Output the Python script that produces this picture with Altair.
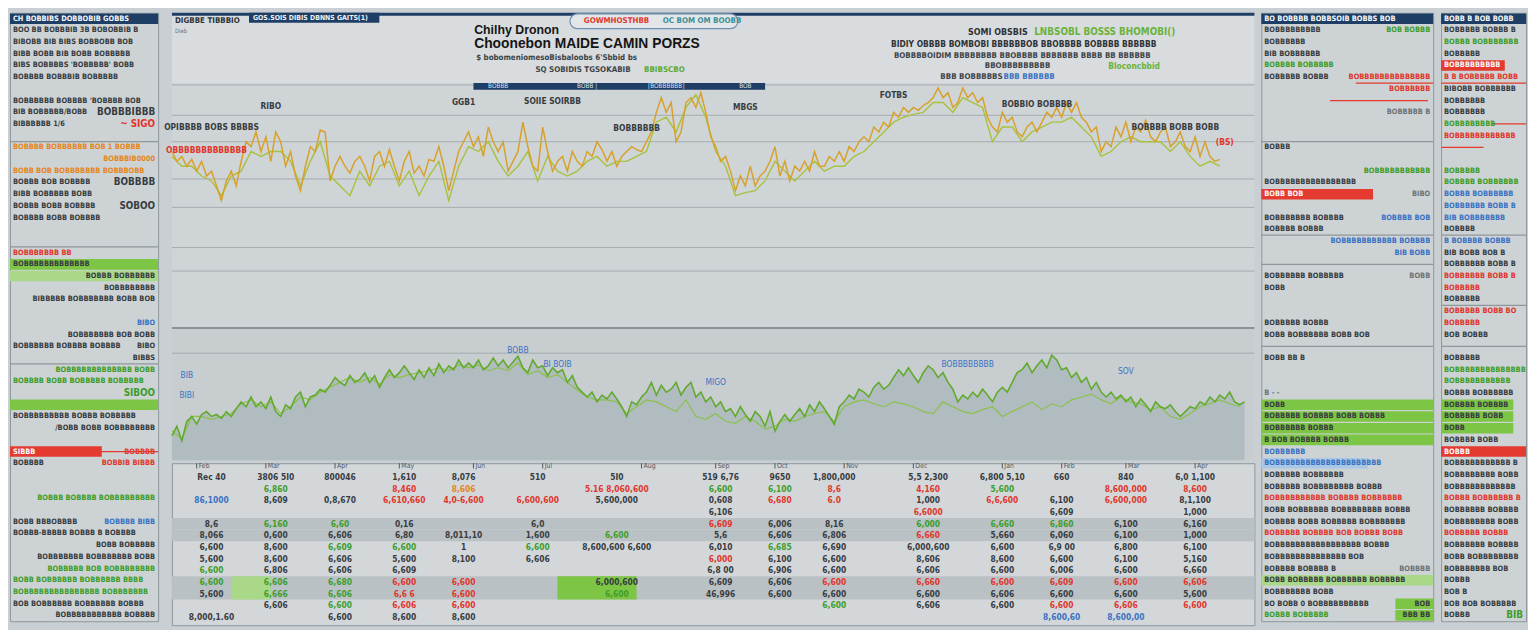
import altair as alt
import pandas as pd

FONT = "Liberation Sans Narrow, DejaVu Sans Condensed, Liberation Sans, sans-serif"
TITLE_FONT = "Liberation Sans, Arial, sans-serif"

# ---------------- upper panel: two price lines ----------------
PRICE_GOLD = [180,170,175,165,172,160,170,155,160,145,130,150,160,145,170,190,185,200,180,195,170,200,190,165,180,155,140,165,185,180,202,200,150,165,175,165,158,170,175,165,150,175,180,165,182,165,150,170,180,158,165,155,172,170,185,165,140,160,180,190,200,185,195,175,205,190,180,190,160,170,180,210,185,165,160,205,180,160,170,175,160,180,170,165,180,175,190,182,170,180,165,175,180,185,182,180,190,200,220,235,220,230,190,200,230,235,225,240,220,195,185,170,175,160,140,155,145,165,145,155,160,170,185,155,170,150,165,160,170,160,180,165,165,175,170,180,170,185,180,190,195,190,205,200,210,205,220,215,225,220,225,222,227,230,235,245,235,240,225,230,245,235,240,230,235,215,205,200,220,210,215,200,195,205,210,200,210,220,215,225,215,230,220,230,215,210,200,205,180,190,185,205,195,210,190,205,200,212,195,190,200,205,185,190,200,185,180,195,175,190,175,170,172]
PRICE_LIME = [175,165,165,155,150,135,155,160,180,175,180,180,170,145,170,190,155,145,135,160,145,165,170,145,160,135,155,170,130,165,185,180,190,170,155,165,180,150,175,160,155,160,170,175,165,170,170,175,180,210,215,200,225,238,215,180,165,135,138,140,150,170,160,150,160,170,160,165,165,175,180,190,200,210,215,218,220,230,230,220,235,230,225,190,205,205,190,200,205,210,210,215,205,195,175,180,190,195,190,190,190,180,190,175,165,170,165]

# ---------------- lower panel: volume area ----------------
VOL_MAIN = [25,35,20,40,45,37,47,50,45,47,43,50,45,53,60,55,65,55,60,53,65,50,45,57,53,65,70,55,65,67,73,70,77,85,80,77,87,80,83,90,80,87,75,85,93,85,90,97,90,83,93,85,95,87,99,90,97,93,103,95,100,95,103,93,97,105,97,103,95,101,107,95,90,103,95,97,87,95,90,93,80,87,75,70,65,70,60,67,63,70,63,55,45,60,57,65,70,80,67,77,70,73,80,67,75,80,65,70,60,65,55,60,50,53,45,55,47,40,50,45,35,50,30,40,47,40,47,53,45,57,50,60,53,45,37,55,60,67,63,73,70,65,75,80,73,77,85,93,87,95,87,80,90,97,93,85,90,80,73,60,67,63,70,65,73,67,60,70,75,70,80,90,93,100,90,97,103,95,108,103,93,95,85,90,80,85,73,80,70,65,70,63,67,60,65,55,63,57,50,60,55,53,57,50,45,50,55,53,60,57,65,60,67,63,70,60,57,60]
VOL_ALT = [30,22,45,45,42,45,48,58,62,55,60,48,55,65,62,70,75,80,85,80,85,78,88,85,88,90,92,95,92,98,95,98,92,95,92,100,88,92,85,88,80,72,65,62,62,60,48,55,62,60,55,50,62,45,42,48,40,38,45,40,32,35,42,40,45,48,50,40,55,60,62,58,55,60,58,55,50,48,60,55,50,48,52,55,45,50,55,60,52,58,55,62,65,68,62,58,65,60,58,52,55,45,42,48,55,58,62,58,55]

GRID_PRICE = [248, 217, 190, 152, 123, 82, 58]
GRID_VOL = [110]

TICK_T = [5, 19, 33, 46, 61, 75, 95, 110, 122, 136, 150, 168, 180, 193, 207]
TICK_LABELS = ["Feb", "Mar", "Apr", "May", "Jun", "Jul", "Aug", "Sep", "Oct", "Nov", "Dec", "Jan", "Feb", "Mar", "Apr"]
TABLE_COL_T = [8, 21, 34, 47, 59, 74, 90, 111, 123, 134, 153, 168, 180, 193, 207]

LINE_NOTES = [(20, 226, "RIBO", "dark"), (59, 231, "GGB1", "dark"), (77, 232, "SOIIE SOIRBB", "dark"),
              (116, 225, "MBGS", "dark"), (146, 238, "FOTBS", "dark"), (175, 228, "BOBBIO BOBBBB", "dark"),
              (8, 205, "OPIBBBB BOBS BBBBS", "dark"), (7, 182, "OBBBBBBBBBBBBB", "red"),
              (94, 204, "BOBBBBBB", "dark"), (203, 205, "BOBBBB BOBB BOBB", "dark"), (213, 190, "(BS)", "red")]
LEGEND_SPAN = [61, 120]
LEGEND_LABELS = [(66, "BOBBB"), (84, "BOBB  |"), (100, "[BOBBBBBB]"), (116, "BOB")]

AREA_NOTES = [(70, 113, "BOBB"), (78, 99, "BI BOIB"), (110, 80, "MIGO"), (161, 99, "BOBBBBBBBB"),
              (193, 92, "SOV"), (3, 88, "BIB"), (3, 67, "BIBI")]

TABLE_CELLS = [
    (1,0,"dark","Rec 40"),(1,1,"dark","3806 5I0"),(1,2,"dark","800046"),(1,3,"dark","1,610"),(1,4,"dark","8,076"),(1,5,"dark","510"),(1,6,"dark","5I0"),(1,7,"dark","519 6,76"),(1,8,"dark","9650"),(1,9,"dark","1,800,000"),(1,10,"dark","5,5 2,300"),(1,11,"dark","6,800 5,10"),(1,12,"dark","660"),(1,13,"dark","840"),(1,14,"dark","6,0 1,100"),
    (2,1,"green","6,860"),(2,3,"red","8,460"),(2,4,"orange","8,606"),(2,6,"red","5.16 8,060,600"),(2,7,"green","6,600"),(2,8,"green","6,100"),(2,9,"red","8,6"),(2,10,"red","4,160"),(2,11,"green","5,600"),(2,13,"red","8,600,000"),(2,14,"red","8,600"),
    (3,0,"blue","86,1000"),(3,1,"dark","8,609"),(3,2,"dark","0,8,670"),(3,3,"red","6,610,660"),(3,4,"red","4,0-6,600"),(3,5,"red","6,600,600"),(3,6,"dark","5,600,000"),(3,7,"dark","0,608"),(3,8,"red","6,680"),(3,9,"red","6.0"),(3,10,"dark","1,000"),(3,11,"red","6,6,600"),(3,12,"dark","6,100"),(3,13,"red","6,600,000"),(3,14,"dark","8,1,100"),
    (4,7,"dark","6,106"),(4,10,"red","6,6000"),(4,12,"dark","6,609"),(4,14,"dark","1,000"),
    (5,0,"dark","8,6"),(5,1,"green","6,160"),(5,2,"green","6,60"),(5,3,"dark","0,16"),(5,5,"dark","6,0"),(5,7,"red","6,609"),(5,8,"dark","6,006"),(5,9,"dark","8,16"),(5,10,"green","6,000"),(5,11,"green","6,660"),(5,12,"green","6,860"),(5,13,"dark","6,100"),(5,14,"dark","6,160"),
    (6,0,"dark","8,066"),(6,1,"dark","0,600"),(6,2,"dark","6,606"),(6,3,"dark","6,80"),(6,4,"dark","8,011,10"),(6,5,"dark","1,600"),(6,6,"green","6,600"),(6,7,"dark","5,6"),(6,8,"dark","6,606"),(6,9,"dark","6,806"),(6,10,"red","6,660"),(6,11,"dark","5,660"),(6,12,"dark","6,060"),(6,13,"dark","6,100"),(6,14,"dark","1,000"),
    (7,0,"dark","6,600"),(7,1,"dark","8,600"),(7,2,"green","6,609"),(7,3,"green","6,600"),(7,4,"dark","1"),(7,5,"green","6,600"),(7,6,"dark","8,600,600 6,600"),(7,7,"dark","6,010"),(7,8,"green","6,685"),(7,9,"dark","6,690"),(7,10,"dark","6,000,600"),(7,11,"dark","6,600"),(7,12,"dark","6,9 00"),(7,13,"dark","6,800"),(7,14,"dark","6,100"),
    (8,0,"dark","5,600"),(8,1,"dark","8,600"),(8,2,"dark","6,606"),(8,3,"dark","5,600"),(8,4,"dark","8,100"),(8,5,"dark","6,606"),(8,7,"red","6,000"),(8,8,"dark","6,100"),(8,9,"dark","6,600"),(8,10,"dark","8,606"),(8,11,"dark","8,600"),(8,12,"dark","6,600"),(8,13,"dark","6,100"),(8,14,"dark","5,160"),
    (9,0,"green","6,600"),(9,1,"dark","6,806"),(9,2,"dark","6,606"),(9,3,"dark","6,609"),(9,7,"dark","6,8 00"),(9,8,"dark","6,906"),(9,9,"dark","6,600"),(9,10,"dark","6,606"),(9,11,"dark","6,600"),(9,12,"dark","6,006"),(9,13,"dark","6,600"),(9,14,"dark","6,660"),
    (10,0,"green","6,600"),(10,1,"green","6,606"),(10,2,"green","6,680"),(10,3,"red","6,600"),(10,4,"red","6,600"),(10,6,"dark","6,000,600"),(10,7,"dark","6,609"),(10,8,"dark","6,606"),(10,9,"red","6,600"),(10,10,"red","6,660"),(10,11,"red","6,600"),(10,12,"red","6,609"),(10,13,"red","6,600"),(10,14,"red","6,606"),
    (11,0,"dark","5,600"),(11,1,"green","6,666"),(11,2,"green","6,606"),(11,3,"red","6,6 6"),(11,4,"red","6,600"),(11,6,"green","6,600"),(11,7,"dark","46,996"),(11,8,"dark","6,600"),(11,9,"dark","6,600"),(11,10,"dark","6,600"),(11,11,"dark","6,606"),(11,12,"dark","6,600"),(11,13,"dark","6,600"),(11,14,"dark","5,600"),
    (12,1,"dark","6,606"),(12,2,"green","6,600"),(12,3,"red","6,606"),(12,4,"red","6,600"),(12,9,"green","6,600"),(12,10,"dark","6,606"),(12,11,"dark","6,600"),(12,12,"red","6,600"),(12,13,"red","6,606"),(12,14,"red","6,600"),
    (13,0,"dark","8,000,1.60"),(13,2,"dark","6,600"),(13,3,"dark","8,600"),(13,4,"dark","8,600"),(13,12,"blue","8,600,60"),(13,13,"blue","8,600,00"),
]
TABLE_BANDS = [5, 6, 10, 11]
TABLE_HIGHLIGHTS = [(10, 11, 78, 94, "green_bar"), (10, 11, 12, 20, "pale_green_bar")]

# ---------------- side panels (row slot, side, kind, emphasis, text) ----------------
LEFT_TEXT = [
    (0,"L","white",0,"CH  BOBBIBS DOBBOBIB GOBBS"),
    (1,"L","dark",0,"BOO BB BOBBBIB 3B BOBOBBIB B"),
    (2,"L","dark",0,"BIBOBB BIB BIBS BOBBOBB BOB"),
    (3,"L","dark",0,"BIBB BOBB BIB BOBB BOBBBBB"),
    (4,"L","dark",0,"BIBS BOBBBBS 'BOBBBBB' BOBB"),
    (5,"L","dark",0,"BOBBBB BOBBBIB BOBBBBB"),
    (7,"L","dark",0,"BOBBBBBB BOBBBB 'BOBBBB BOB"),
    (8,"L","dark",0,"BIB BOBBBBB/BOBB"),
    (8,"R","dark",1,"BOBBBIBBB"),
    (9,"L","dark",0,"BIBBBBBB 1/6"),
    (9,"R","red",1,"~ SIGO"),
    (11,"L","orange",0,"BOBBBB BOBBBBBB BOB 1 BOBBB"),
    (12,"R","orange",0,"BOBBBIB0000"),
    (13,"L","orange",0,"BOBB BOB BOBBBBBBB BOBBBOBB"),
    (14,"L","dark",0,"BOBBB BOB BOBBBB"),
    (14,"R","dark",1,"BOBBBB"),
    (15,"L","dark",0,"BIBB BOBBBBB BOBB"),
    (16,"L","dark",0,"BOBBB BOBB BOBBBB"),
    (16,"R","dark",1,"SOBOO"),
    (17,"L","dark",0,"BOBBBB BOBB BOBBBB"),
    (20,"L","red",0,"      BOBBBBBBB BB"),
    (21,"L","dark",0,"        BOBBBBBBBBBBBBB"),
    (22,"R","dark",0,"BOBBB BOBBBBBB"),
    (23,"R","dark",0,"BOBBBBBBBB"),
    (24,"R","dark",0,"BIBBBBB BOBBBBBBB BOBB BOB"),
    (26,"R","blue",0,"BIBO"),
    (27,"R","dark",0,"BOBBBBBBB BOB BOBB"),
    (28,"L","dark",0,"BOBBBBBB BOBBBB BOBBBB"),
    (28,"R","dark",0,"BIBO"),
    (29,"R","dark",0,"BIBBS"),
    (30,"R","green",0,"BOBBBBBBBBBBBBB BOBB"),
    (31,"L","green",0,"BOBBBB BOBB BOBBBBB BOBBBBB"),
    (32,"R","green",1,"SIBOO"),
    (34,"L","dark",0,"BOBBBBBBBBB BOBBB BOBBBBB"),
    (35,"R","dark",0,"/BOBB BOBB BOBBBBBBBB"),
    (37,"L","white",0,"SIBBB"),
    (37,"R","red",0,"BOBBBB"),
    (38,"L","dark",0,"BOBBBB"),
    (38,"R","red",0,"BOBBIB  BIBBB"),
    (41,"R","green",0,"BOBBB BOBBBB BOBBBBBBBBB"),
    (43,"L","dark",0,"BOBB BBBOBBBB"),
    (43,"R","blue",0,"BOBBBB BIBB"),
    (44,"L","dark",0,"BOBBB-BBBBB BOBBB B BOBBBB"),
    (45,"R","dark",0,"BOBB BOBBBBB"),
    (46,"R","dark",0,"BOBBBBBBB BOBBBBBBB BOBB"),
    (47,"R","green",0,"BOBBBBB BOB BOBBBBBBBB"),
    (48,"L","green",0,"BOBB BOBBBBBB BOBBBBBB BBBB"),
    (49,"L","green",0,"BOBBBBBBBBBBBBBBB BOBBBBBBB"),
    (50,"L","dark",0,"BOB BOBBBBBB BOBBBBBB BOBBB"),
    (51,"R","dark",0,"BOBBBBBBBBBBB BOBBBB"),
]
LEFT_BARS = [(0,0,100,"navy_bar"),(21,0,100,"green_bar"),(22,0,100,"pale_green_bar"),(33,0,100,"green_bar"),(37,0,62,"red_bar")]
LEFT_RULES = [(10.5,0,100,"rule"),(19.5,0,100,"rule"),(29.5,0,100,"rule"),(37,62,100,"red_bar")]

R1_TEXT = [
    (0,"L","white",0,"BO BOBBBB BOBBSOIB BOBBS BOB"),
    (1,"L","dark",0,"BOBBBBBBBBB"),
    (1,"R","green",0,"BOB BOBBB"),
    (2,"L","dark",0,"BOBBBBBB"),
    (3,"L","dark",0,"BIB BOBBBBBB"),
    (4,"L","green",0,"BOBBBB BOBBBBB"),
    (5,"L","dark",0,"BOBBBBB BOBBB"),
    (5,"R","red",0,"BOBBBBBBBBBBBBBB"),
    (6,"R","red",0,"BOBBBBBB"),
    (8,"R","gray",0,"BOBBBBB B"),
    (11,"L","dark",0,"BOBBB"),
    (13,"R","green",0,"BOBBBBBBBBBBB"),
    (14,"L","dark",0,"BOBBBBBBBBBBBBBBBB"),
    (15,"L","white",0,"BOBB                BOB"),
    (15,"R","gray",0,"BIBO"),
    (17,"L","dark",0,"BOBBBBBBB BOBBBB"),
    (17,"R","blue",0,"BOBBBB BOB"),
    (18,"L","dark",0,"BOBBBB BOBBB"),
    (19,"R","blue",0,"BOBBBBBBBBBBB BOBBBB"),
    (20,"R","blue",0,"BIB BOBB"),
    (22,"L","dark",0,"BOBBBBBB BOBBBBB"),
    (22,"R","gray",0,"BOBB"),
    (23,"L","dark",0,"BOBB"),
    (26,"L","dark",0,"BOBBBBB BOBBB"),
    (27,"L","dark",0,"BOBB BOBBBBBB BOBB BOB"),
    (29,"L","dark",0,"BOBB BB B"),
    (32,"L","gray",0,"B  - -"),
    (33,"L","dark",0,"BOBB"),
    (34,"L","dark",0,"BOBBBBB BOBBBB BOBB BOBBB"),
    (35,"L","dark",0,"BOBBBBBB  BOBBB"),
    (36,"L","dark",0,"B BOB BOBBBB BOBBB"),
    (37,"L","blue",0,"BOBBBBBB"),
    (38,"L","blue",0,"BOBBBBBBBBBBBBBBBBBBBBB"),
    (39,"L","dark",0,"BOBBBBB BOBBBBBB"),
    (40,"L","dark",0,"BOBBBBB BOBBBBBBBB BOBBB"),
    (41,"L","red",0,"BOBBBBBBBBBB BOBBBB BOBBBBBB"),
    (42,"L","dark",0,"BOBB BOBBBBBB BOBBBBBBBB BOBBB"),
    (43,"L","dark",0,"BOBBBB BOBB BOBBBBB BOBBBBBBB"),
    (44,"L","red",0,"BOBBBBB BOBBBB BOB BOBBB BOBB"),
    (45,"L","dark",0,"BOBBBBBBBBBBBBBBBBB BOBBB"),
    (46,"L","dark",0,"BOBBBBBBBBBBBBBB BOB"),
    (47,"L","dark",0,"BOBBBB BOBBBB B"),
    (47,"R","gray",0,"BOBBBB"),
    (48,"L","dark",0,"BOBB BOBBBBB BOBBBBBB BOBBBBB"),
    (49,"L","dark",0,"BOBBBBBBB BOBB"),
    (50,"L","dark",0,"BO BOBB 0 BOBBBBBBBBBB"),
    (50,"R","dark",0,"BOB"),
    (51,"L","green",0,"BOBBB BOBBBBB"),
    (51,"R","dark",0,"BBB BB"),
]
R1_BARS = [(0,0,100,"navy_bar"),(15,0,65,"red_bar"),(33,0,100,"green_bar"),(34,0,100,"green_bar"),(35,0,100,"green_bar"),
           (36,0,100,"green_bar"),(38,0,62,"blue_bar"),(48,0,100,"pale_green_bar"),(50,78,100,"green_bar"),(51,78,100,"green_bar")]
R1_RULES = [(7,40,97,"red_bar"),(10.5,0,100,"rule"),(18.5,0,100,"rule"),(21,0,100,"rule"),(28,0,100,"rule"),(5.5,55,100,"red_bar")]

R2_TEXT = [
    (0,"L","white",0,"BOBB B BOB BOBB"),
    (1,"L","dark",0,"BOBBBBB BOBBB B"),
    (2,"L","green",0,"BOBBB BOBBBBBBB"),
    (3,"L","dark",0,"BOBBBBB"),
    (4,"L","white",0,"BOBBBBBBBBB"),
    (5,"L","red",0,"B B BOBBBBB BOBB"),
    (6,"L","dark",0,"BIBOBB BOBBBBBB"),
    (7,"L","dark",0,"BOBBBBBB"),
    (8,"L","dark",0,"BOBBBBBB"),
    (9,"L","green",0,"BOBBBBBBBB"),
    (10,"L","red",0,"BOBBBBBBBBBBBB"),
    (13,"L","green",0,"BOBBBBB"),
    (14,"L","green",0,"BOBBBB BOBBBBBB"),
    (15,"L","blue",0,"BOBBB BOBBBBBB"),
    (16,"L","blue",0,"BOBBBBBB BOBB B"),
    (17,"L","blue",0,"BIB BOBBBBBBB"),
    (18,"L","dark",0,"BOBBBB"),
    (19,"L","blue",0,"B BOBBBB BOBBB"),
    (20,"L","dark",0,"BIB BOBB BOB B"),
    (21,"L","dark",0,"BOBBBBBB BOBB B"),
    (22,"L","red",0,"BOBBBBBB BOBB B"),
    (23,"L","red",0,"BOBBBBB"),
    (24,"L","dark",0,"BOBBBBB"),
    (25,"L","red",0,"BOBBBBB BOBB BO"),
    (26,"L","red",0,"BOBBBBB"),
    (27,"L","dark",0,"BOB BOBBB"),
    (29,"L","dark",0,"BOBBBBB"),
    (30,"L","green",0,"BOBBBBBBBBBBBBBB"),
    (31,"L","green",0,"BOBBBBBBBBBBB"),
    (32,"L","dark",0,"BOBBB BOBBBBBB"),
    (33,"L","dark",0,"BOBBBB BOBBBB"),
    (34,"L","dark",0,"BOBBBBB BOBB"),
    (35,"L","dark",0,"BOBB"),
    (36,"L","dark",0,"BOBBBB BOBB"),
    (37,"L","white",0,"BOBBB"),
    (38,"L","dark",0,"BOBBBBBBBBBBB B"),
    (39,"L","dark",0,"BOBBBBBBBB BOBB"),
    (40,"L","dark",0,"BOBBBBBBBBBBBB"),
    (41,"L","red",0,"BOBBB BOBBBBBB B"),
    (42,"L","dark",0,"BOBBBBBB BOBBBB"),
    (43,"L","dark",0,"BOBBBBBBBB BOBB"),
    (44,"L","red",0,"BOBBBBB BOBBB"),
    (45,"L","dark",0,"BOBBBBBB BOBBBB"),
    (46,"L","dark",0,"BOBB BOBBBBBBBB"),
    (47,"L","dark",0,"BOBBBBBBB BOB"),
    (48,"L","dark",0,"BOBBB"),
    (49,"L","dark",0,"BOB B"),
    (50,"L","dark",0,"BOB BOB BOBBBBB"),
    (51,"L","dark",0,"BOBBB"),
    (51,"R","green",1,"BIB"),
]
R2_BARS = [(0,0,100,"navy_bar"),(4,0,75,"red_bar"),(33,0,85,"green_bar"),(34,0,85,"green_bar"),(35,0,85,"green_bar"),(37,0,100,"red_bar")]
R2_RULES = [(9,60,100,"red_bar"),(11,0,50,"red_bar"),(18.5,0,100,"rule"),(24.5,0,100,"rule"),(28,0,100,"rule"),(5.5,0,100,"red_bar")]

# ---------------- styling ----------------
KIND_DOMAIN = ["dark","gray","red","green","orange","blue","white","navy_bar","green_bar","pale_green_bar","red_bar","blue_bar","rule"]
KIND_RANGE = ["#383c41","#6b7378","#e0362c","#3d9d2a","#e4861b","#3a72c3","#f5f7f8","#1e3e66","#7dc545","#a9d889","#e53a2f","#a9c8e6","#8e979b"]
COLOR = alt.Scale(domain=KIND_DOMAIN, range=KIND_RANGE)
SIZE = alt.Scale(domain=[0, 1], range=[7.5, 10])
BG = "#c9cfd2"
PANEL_FILL = "#cdd3d5"
PANEL_STROKE = "#8e979b"
H = 616
Y_SLOTS = alt.Scale(domain=[-0.5, 51.5], reverse=True, nice=False, zero=False)
PCT = alt.Scale(domain=[0, 100], nice=False, zero=False)
X_T = alt.Scale(domain=[0, 219], nice=False, zero=False)
Y_PRICE = alt.Scale(domain=[0, 250], nice=False, zero=False)
Y_VOL = alt.Scale(domain=[0, 135], nice=False, zero=False)
Y_TAB = alt.Scale(domain=[-0.2, 13.7], reverse=True, nice=False, zero=False)
CW = 1096


def kind_color():
    return alt.Color("kind:N", scale=COLOR, legend=None)


def side_panel(width, texts, bars, rules):
    tdf = pd.DataFrame(texts, columns=["slot", "side", "kind", "em", "text"])
    bdf = pd.DataFrame(bars, columns=["slot", "start", "end", "kind"])
    bdf["top"] = bdf["slot"] - 0.45
    bdf["bottom"] = bdf["slot"] + 0.45
    rdf = pd.DataFrame(rules, columns=["slot", "start", "end", "kind"])
    bar_layer = alt.Chart(bdf).mark_rect().encode(
        x=alt.X("start:Q", scale=PCT, axis=None), x2="end:Q",
        y=alt.Y("top:Q", scale=Y_SLOTS, axis=None), y2="bottom:Q", color=kind_color())
    rule_layer = alt.Chart(rdf).mark_rule(strokeWidth=1.3).encode(
        x=alt.X("start:Q", scale=PCT, axis=None), x2="end:Q",
        y=alt.Y("slot:Q", scale=Y_SLOTS, axis=None), color=kind_color())

    def txt(side, align, xpos):
        return alt.Chart(tdf).transform_filter(alt.datum.side == side).mark_text(
            align=align, baseline="middle", font=FONT, fontWeight="bold", clip=True).encode(
            x=alt.value(xpos), y=alt.Y("slot:Q", scale=Y_SLOTS, axis=None),
            text="text:N", color=kind_color(),
            size=alt.Size("em:Q", scale=SIZE, legend=None))

    return alt.layer(bar_layer, rule_layer, txt("L", "left", 3), txt("R", "right", width - 3)).properties(
        width=width, height=H,
        view=alt.ViewBackground(fill=PANEL_FILL, stroke=PANEL_STROKE, strokeWidth=1))


# ---------------- header ----------------
_one = pd.DataFrame({"k": [0]})


def htext(x, y, text, color, size, weight="bold", font=FONT):
    return alt.Chart(_one).mark_text(text=text, align="left", baseline="middle", font=font,
                                     fontSize=size, fontWeight=weight, color=color).encode(
        x=alt.value(x), y=alt.value(y))


def hrect(x, x2, y, y2, fill, stroke="transparent", radius=0):
    return alt.Chart(_one).mark_rect(fill=fill, stroke=stroke, cornerRadius=radius, strokeWidth=1.2).encode(
        x=alt.value(x), x2=alt.value(x2), y=alt.value(y), y2=alt.value(y2))


header = alt.layer(
    hrect(0, CW, 0, 3, "#1e3e66"),
    hrect(78, 210, 0, 10, "#1e3e66"),
    htext(82, 5, "GOS.SOIS DIBIS DBNNS GAITS(1)", "#f0f3f5", 7),
    htext(3, 8, "DIGBBE  TIBBBIO", "#2e3236", 8),
    htext(3, 18, "Dieb", "#6b7378", 6, "normal"),
    hrect(403, 573, 1, 16, "#e2e6e8", "#6f8fae", 8),
    htext(417, 8.5, "GOWMHOSTHBB", "#e0362c", 8),
    htext(497, 8.5, "OC BOM OM BOOBB", "#3b8e97", 8),
    htext(306, 17, "Chilhy Dronon", "#151515", 12.5, "bold", TITLE_FONT),
    htext(306, 32, "Choonebon MAIDE CAMIN PORZS", "#151515", 14, "bold", TITLE_FONT),
    htext(308, 46, "$ bobomeniomesoBisbaloobs  6'Sbbid bs", "#3e4348", 8),
    htext(368, 58, "SQ SOBIDIS  TGSOKABIB", "#3e4348", 8),
    htext(478, 58, "BBIBSCBO", "#5aa832", 8),
    htext(806, 19, "SOMI OBSBIS", "#2e3236", 9),
    htext(873, 19, "LNBSOBL BOSSS BHOMOBI()", "#6bb23a", 10),
    htext(728, 32, "BIDIY  OBBBB BOMBOBI BBBBBBOB BBOBBBB BOBBBB BBBBBB", "#2e3236", 8.5),
    htext(731, 44, "BOBBBBOIDIM BBBBBBBB BBOBBBB BBBBBBB BBBB BB BBBBBB", "#3e4348", 8),
    htext(823, 54, "BBOBBBBBBBBB", "#3e4348", 8),
    htext(948, 54, "Bloconcbbid", "#6bb23a", 8.5),
    htext(778, 65, "BBB BOBBBBBS", "#3e4348", 8),
    htext(842, 65, "BBB BBBBBB", "#3a72c3", 8),
).properties(width=CW, height=71, view=alt.ViewBackground(fill="#d8dcde", strokeWidth=0))

# ---------------- price chart ----------------
gold_df = pd.DataFrame({"t": list(range(len(PRICE_GOLD))), "v": PRICE_GOLD})
lime_df = pd.DataFrame({"t": [2 * i for i in range(len(PRICE_LIME))], "v": PRICE_LIME})
grid_p = pd.DataFrame({"v": GRID_PRICE})
notes_p = pd.DataFrame(LINE_NOTES, columns=["t", "v", "text", "kind"])
legend_df = pd.DataFrame({"t0": [LEGEND_SPAN[0]], "t1": [LEGEND_SPAN[1]], "v0": [243], "v1": [250]})
legend_lab = pd.DataFrame(LEGEND_LABELS, columns=["t", "text"])
legend_lab["v"] = 246.5

price = alt.layer(
    alt.Chart(grid_p).mark_rule(color="#a5acaf", strokeWidth=1).encode(y=alt.Y("v:Q", scale=Y_PRICE, axis=None)),
    alt.Chart(pd.DataFrame({"v": [0]})).mark_rule(color="#8b9396", strokeWidth=2).encode(y=alt.Y("v:Q", scale=Y_PRICE, axis=None)),
    alt.Chart(legend_df).mark_rect(color="#1e3e66").encode(
        x=alt.X("t0:Q", scale=X_T, axis=None), x2="t1:Q",
        y=alt.Y("v0:Q", scale=Y_PRICE, axis=None), y2="v1:Q"),
    alt.Chart(legend_lab).mark_text(font=FONT, fontSize=6.5, color="#dfe7ef").encode(
        x=alt.X("t:Q", scale=X_T, axis=None), y=alt.Y("v:Q", scale=Y_PRICE, axis=None), text="text:N"),
    alt.Chart(lime_df).mark_line(color="#a7c23c", strokeWidth=1.4).encode(
        x=alt.X("t:Q", scale=X_T, axis=None), y=alt.Y("v:Q", scale=Y_PRICE, axis=None)),
    alt.Chart(gold_df).mark_line(color="#d8a12a", strokeWidth=1.5).encode(
        x=alt.X("t:Q", scale=X_T, axis=None), y=alt.Y("v:Q", scale=Y_PRICE, axis=None)),
    alt.Chart(notes_p).mark_text(font=FONT, fontWeight="bold", fontSize=8.5).encode(
        x=alt.X("t:Q", scale=X_T, axis=None), y=alt.Y("v:Q", scale=Y_PRICE, axis=None),
        text="text:N", color=kind_color()),
).properties(width=CW, height=248, view=alt.ViewBackground(fill="#cfd4d6", strokeWidth=0))

# ---------------- volume chart ----------------
vol_df = pd.DataFrame({"t": list(range(len(VOL_MAIN))), "v": VOL_MAIN})
vol_alt_df = pd.DataFrame({"t": [2 * i for i in range(len(VOL_ALT))], "v": VOL_ALT})
notes_v = pd.DataFrame(AREA_NOTES, columns=["t", "v", "text"])
notes_v["kind"] = "blue"

volume = alt.layer(
    alt.Chart(vol_df).mark_area(color="#a8b6b9", opacity=0.75).encode(
        x=alt.X("t:Q", scale=X_T, axis=None), y=alt.Y("v:Q", scale=Y_VOL, axis=None)),
    alt.Chart(pd.DataFrame({"v": GRID_VOL})).mark_rule(color="#a3aaad", strokeWidth=1).encode(
        y=alt.Y("v:Q", scale=Y_VOL, axis=None)),
    alt.Chart(vol_alt_df).mark_line(color="#8cc04a", strokeWidth=1.2).encode(
        x=alt.X("t:Q", scale=X_T, axis=None), y=alt.Y("v:Q", scale=Y_VOL, axis=None)),
    alt.Chart(vol_df).mark_line(color="#62aa2e", strokeWidth=1.6).encode(
        x=alt.X("t:Q", scale=X_T, axis=None), y=alt.Y("v:Q", scale=Y_VOL, axis=None)),
    alt.Chart(notes_v).mark_text(font=FONT, fontSize=8.5).encode(
        x=alt.X("t:Q", scale=X_T, axis=None), y=alt.Y("v:Q", scale=Y_VOL, axis=None),
        text="text:N", color=kind_color()),
).properties(width=CW, height=133, view=alt.ViewBackground(fill="#c8ced0", strokeWidth=0))

# ---------------- table ----------------
cells = pd.DataFrame(TABLE_CELLS, columns=["row", "col", "kind", "text"])
cells["t"] = [TABLE_COL_T[c] for c in cells["col"]]
bands = pd.DataFrame({"row": TABLE_BANDS})
bands["y0"] = bands["row"] - 0.5
bands["y1"] = bands["row"] + 0.5
hl = pd.DataFrame(TABLE_HIGHLIGHTS, columns=["r0", "r1", "t0", "t1", "kind"])
hl["y0"] = hl["r0"] - 0.5
hl["y1"] = hl["r1"] + 0.5
ticks = pd.DataFrame({"t": TICK_T, "label": TICK_LABELS})
ticks["row"] = 0
ticks["y0"] = -0.2
ticks["y1"] = 0.25

table = alt.layer(
    alt.Chart(bands).mark_rect(color="#bac1c4").encode(
        y=alt.Y("y0:Q", scale=Y_TAB, axis=None), y2="y1:Q"),
    alt.Chart(hl).mark_rect().encode(
        x=alt.X("t0:Q", scale=X_T, axis=None), x2="t1:Q",
        y=alt.Y("y0:Q", scale=Y_TAB, axis=None), y2="y1:Q", color=kind_color()),
    alt.Chart(ticks).mark_rule(color="#50565b", strokeWidth=1).encode(
        x=alt.X("t:Q", scale=X_T, axis=None), y=alt.Y("y0:Q", scale=Y_TAB, axis=None), y2="y1:Q"),
    alt.Chart(ticks).mark_text(font=FONT, fontSize=7, align="left", dx=2, color="#50565b").encode(
        x=alt.X("t:Q", scale=X_T, axis=None), y=alt.Y("row:Q", scale=Y_TAB, axis=None), text="label:N"),
    alt.Chart(cells).mark_text(font=FONT, fontWeight="bold", fontSize=8.5).encode(
        x=alt.X("t:Q", scale=X_T, axis=None), y=alt.Y("row:Q", scale=Y_TAB, axis=None),
        text="text:N", color=kind_color()),
).properties(width=CW, height=164, view=alt.ViewBackground(fill="#d3d7d9", stroke=PANEL_STROKE, strokeWidth=1))

center = alt.vconcat(header, price, volume, table, spacing=0).resolve_scale(y="independent")

left = side_panel(150, LEFT_TEXT, LEFT_BARS, LEFT_RULES)
right1 = side_panel(174, R1_TEXT, R1_BARS, R1_RULES)
right2 = side_panel(86, R2_TEXT, R2_BARS, R2_RULES)

chart = alt.hconcat(left, center, right1, right2, spacing=4).resolve_scale(
    x="independent", y="independent").properties(padding=0).configure(
    background=BG).configure_view(stroke="transparent")

chart.save("out.html", embed_options={"renderer": "svg", "actions": False})
